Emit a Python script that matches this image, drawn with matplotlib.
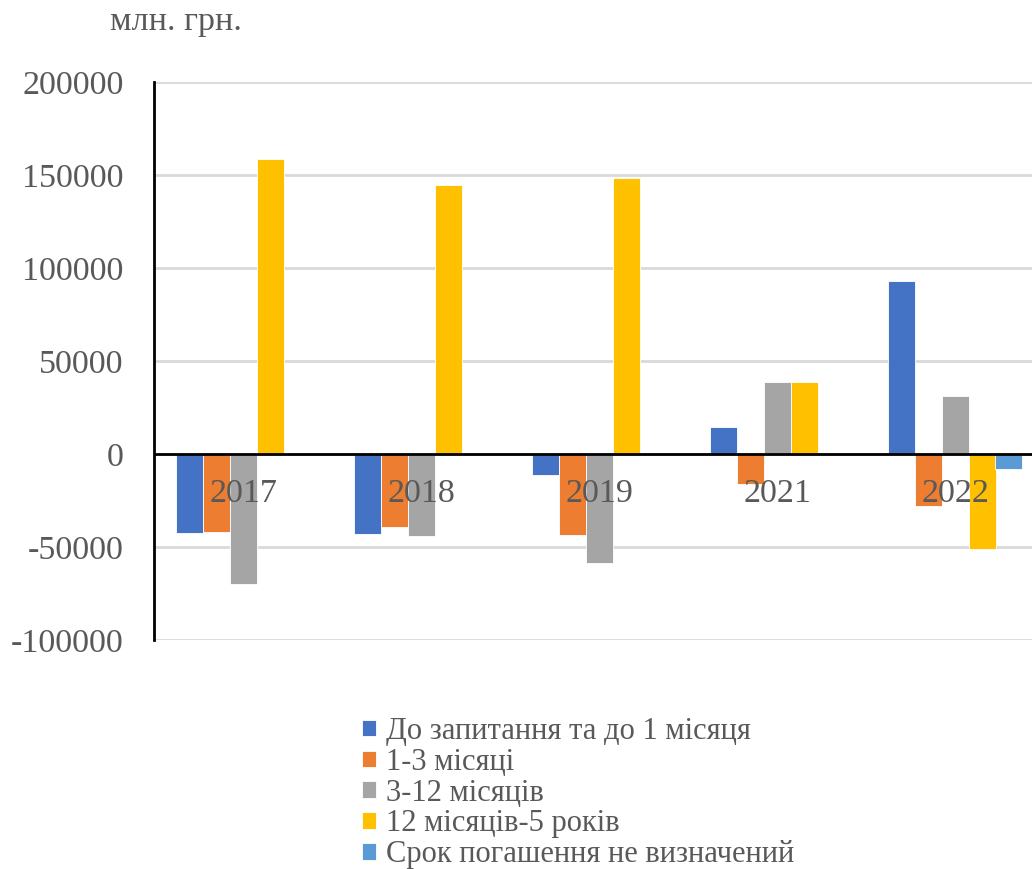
import matplotlib.pyplot as plt
import numpy as np

years = ["2017", "2018", "2019", "2021", "2022"]
series_names = [
    "До запитання та до 1 місяця",
    "1-3 місяці",
    "3-12 місяців",
    "12 місяців-5 років",
    "Срок погашення не визначений",
]
demand_1m = [-42300, -43200, -11300, 14700, 93200]
m1_3 = [-42100, -39400, -43500, -16100, -27900]
m3_12 = [-69900, -44300, -58600, 38700, 31300]
m12_5y = [158600, 144600, 148400, 38700, -50900]
undefined = [0, 0, 0, 0, -8200]
colors = ["#4472c4", "#ed7d31", "#a5a5a5", "#ffc000", "#5b9bd5"]

plt.rcParams["font.family"] = ["Liberation Serif", "DejaVu Serif"]
plt.rcParams["axes.unicode_minus"] = False
txt = "#595959"

fig = plt.figure(figsize=(10.32, 8.69), dpi=100)
ax = fig.add_axes([154 / 1032, 1 - 640 / 869, 890 / 1032, 558 / 869])

x = np.arange(len(years))
w = 27 / 178
all_series = [demand_1m, m1_3, m3_12, m12_5y, undefined]
for i, vals in enumerate(all_series):
    ax.bar(x + (i - 2) * w, vals, width=w, color=colors[i], label=series_names[i],
           edgecolor="white", linewidth=0.6, zorder=3)

ax.set_xlim(-0.5, len(years) - 0.5)
ax.set_ylim(-100000, 200000)
ax.set_yticks(np.arange(-100000, 200001, 50000))
ax.yaxis.grid(True, color="#d9d9d9", linewidth=2, zorder=0)
ax.axhline(0, color="black", linewidth=2, zorder=4)
for s in ["top", "right", "bottom"]:
    ax.spines[s].set_visible(False)
ax.spines["left"].set_linewidth(2)
ax.tick_params(axis="y", length=0, labelsize=24.5, labelcolor=txt, pad=22)
ax.set_xticks([])
for xi, yr in zip(x, years):
    ax.text(xi, -21500, yr, ha="center", va="center", fontsize=24.5, color=txt, zorder=5)

fig.text(110 / 1032, 1 - 22 / 869, "млн. грн.", fontsize=24.5, color=txt, va="center", ha="left")

leg = fig.legend(loc="upper left", bbox_to_anchor=(362 / 1032, 1 - 717 / 869), frameon=False,
                 fontsize=22, labelcolor=txt, handlelength=0.46, handleheight=0.46,
                 handletextpad=0.33, labelspacing=0.06, borderpad=0, borderaxespad=0)

fig.savefig("out.png", dpi=100)
